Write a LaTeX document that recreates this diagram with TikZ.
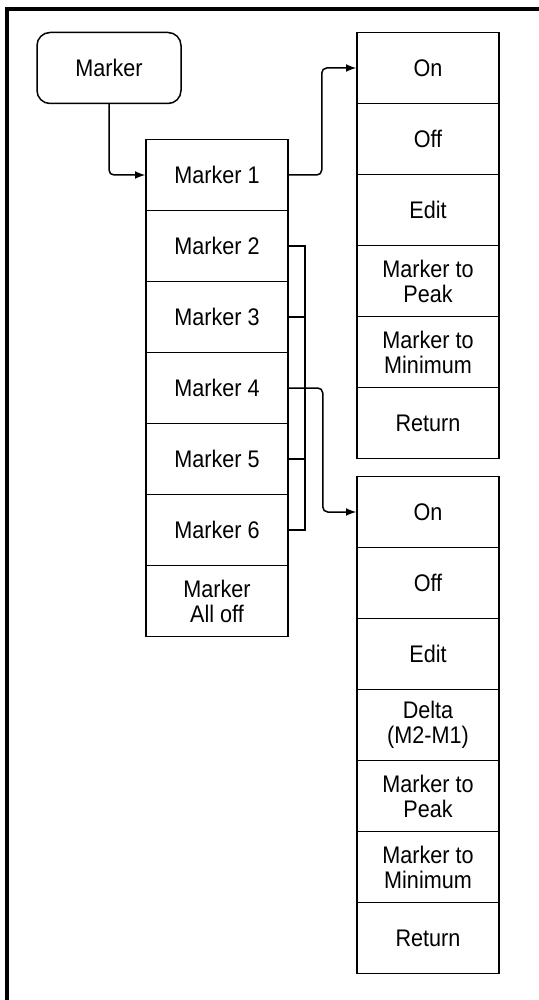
\documentclass[tikz,border=0pt]{standalone}
\usepackage{fontspec}
\setmainfont{Liberation Sans}[FakeStretch=0.9]
\usetikzlibrary{shapes.geometric, arrows}
\tikzstyle{menu} = [rectangle, rounded corners=6.5pt, draw, line width=0.75pt, minimum width=72pt, minimum height=35.5pt, text centered, font=\fontsize{12}{12.5}\selectfont]
\tikzstyle{item} = [rectangle, draw, line width=0.75pt, minimum width=71pt, minimum height=35.5pt, align=center, font=\fontsize{12}{12.5}\selectfont]
\tikzstyle{arrow} = [line width=0.75pt,->,>=latex,rounded corners=2.5pt]
\tikzstyle{link} = [line width=0.75pt]

\begin{document}
\begin{tikzpicture}[x=0.5pt,y=-0.5pt]
            \useasboundingbox (0,0) rectangle (539,1000);
            \draw [line width=2pt] (7,1000) -- (7,9.5) -- (539,9.5);
            \node [menu] at (109,68) (menu) {Marker};
            \node [item] at (217,175) (mk1) {Marker 1};
            \node [item] at (217,246) (mk2) {Marker 2};
            \node [item] at (217,317) (mk3) {Marker 3};
            \node [item] at (217,388) (mk4) {Marker 4};
            \node [item] at (217,459) (mk5) {Marker 5};
            \node [item] at (217,530) (mk6) {Marker 6};
            \node [item] at (217,601) (mk7) {Marker\\All off};
            \node [item] at (428,68) (sa1) {On};
            \node [item] at (428,139) (sa2) {Off};
            \node [item] at (428,210) (sa3) {Edit};
            \node [item] at (428,281) (sa4) {Marker to\\Peak};
            \node [item] at (428,352) (sa5) {Marker to\\Minimum};
            \node [item] at (428,423) (sa6) {Return};
            \node [item] at (428,512) (sb1) {On};
            \node [item] at (428,583) (sb2) {Off};
            \node [item] at (428,654) (sb3) {Edit};
            \node [item] at (428,725) (sb4) {Delta\\(M2-M1)};
            \node [item] at (428,796) (sb5) {Marker to\\Peak};
            \node [item] at (428,867) (sb6) {Marker to\\Minimum};
            \node [item] at (428,938) (sb7) {Return};
            \draw [arrow] (menu.south) |- (mk1.west);
            \draw [arrow] (mk1.east) -- ++(33,0) |- (sa1.west);
            \draw [link] (mk2.east) -- ++(16,0) |- (mk6.east);
            \draw [link] (mk3.east) -- ++(16,0);
            \draw [link] (mk5.east) -- ++(16,0);
            \draw [arrow] (mk4.east) -- ++(34,0) |- (sb1.west);
            \end{tikzpicture}
\end{document}
